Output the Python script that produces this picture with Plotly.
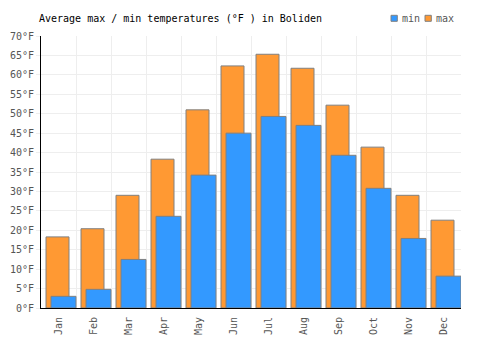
import plotly.graph_objects as go

months = ["Jan", "Feb", "Mar", "Apr", "May", "Jun", "Jul", "Aug", "Sep", "Oct", "Nov", "Dec"]
max_f = [18.3, 20.4, 29.0, 38.3, 51.0, 62.3, 65.3, 61.7, 52.2, 41.4, 29.0, 22.6]
min_f = [3.0, 4.8, 12.5, 23.6, 34.2, 45.0, 49.3, 47.0, 39.3, 30.8, 17.9, 8.2]
y_ticks = list(range(0, 71, 5))

xs = list(range(len(months)))
font = "DejaVu Sans Mono"
c_max = "#FF9933"
c_min = "#3399FF"
edge = "#808080"

fig = go.Figure()
# invisible trace to activate xaxis2 for category-boundary gridlines
fig.add_trace(go.Scatter(x=[-0.5], y=[0], xaxis="x2", mode="markers", marker=dict(opacity=0),
                         showlegend=False, hoverinfo="skip"))
fig.add_trace(go.Bar(x=xs, y=max_f, name="max", marker=dict(color=c_max, line=dict(color=edge, width=1)),
                     offset=-0.357, width=0.657, showlegend=False))
fig.add_trace(go.Bar(x=xs, y=min_f, name="min", marker=dict(color=c_min, line=dict(color=edge, width=1)),
                     offset=-0.214, width=0.714, showlegend=False))

W, H = 500, 350
def px_x(p):
    return p / W
def px_y(p):
    return 1 - p / H

# legend drawn in paper coords
for (x0, color, label) in [(391, c_min, "min"), (425, c_max, "max")]:
    fig.add_shape(type="rect", xref="paper", yref="paper",
                  x0=(x0 - 41) / 420, x1=(x0 + 6.3 - 41) / 420,
                  y0=(308 - 21.3) / 272, y1=(308 - 15.3) / 272,
                  fillcolor=color, line=dict(color=edge, width=1))
    fig.add_annotation(xref="paper", yref="paper", x=(x0 + 8.5 - 41) / 420, y=(308 - 18.3) / 272,
                       text=label, showarrow=False, xanchor="left", yanchor="middle",
                       font=dict(family=font, size=10, color="#555"))

fig.update_layout(
    width=W, height=H,
    margin=dict(l=41, r=39, t=36, b=42, autoexpand=False),
    paper_bgcolor="white", plot_bgcolor="white",
    barmode="overlay", showlegend=False,
    font=dict(family=font, size=10, color="#555"),
    title=dict(text="Average max / min temperatures (°F ) in Boliden", x=0.078, xanchor="left", y=0.948, yanchor="middle",
               font=dict(family=font, size=10, color="black")),
    xaxis=dict(range=[-0.5, 11.5], tickvals=xs, ticktext=months, tickangle=-90, showgrid=False,
               showline=True, linecolor="black", linewidth=1, ticks="", zeroline=False, ticklabelstandoff=4),
    xaxis2=dict(range=[-0.5, 11.5], overlaying="x", tickvals=[i - 0.5 for i in range(13)], showticklabels=False,
                showgrid=True, gridcolor="#eeeeee", gridwidth=1, zeroline=False, side="bottom"),
    yaxis=dict(range=[0, 70], tickvals=y_ticks, ticktext=[f"{v}°F" for v in y_ticks], showgrid=True, gridcolor="#eeeeee",
               showline=True, linecolor="black", linewidth=1, ticks="outside", ticklen=4, tickcolor="#eeeeee",
               zeroline=False),
)
fig.write_html("out.html")
